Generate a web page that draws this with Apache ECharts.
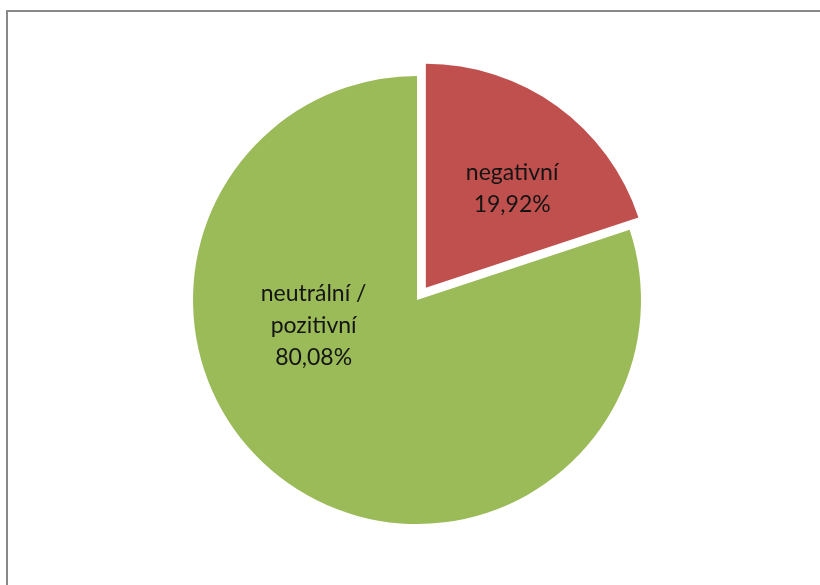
<!DOCTYPE html>
<html>
<head>
<meta charset="utf-8">
<script src="https://cdn.jsdelivr.net/npm/echarts@6/dist/echarts.min.js"></script>
<style>
  html, body { margin: 0; padding: 0; background: #fff; }
  #chart { width: 820px; height: 585px; }
</style>
</head>
<body>
<div id="chart"></div>
<script>
// Sentiment split, shares in percent
const categories = ['negativní', 'neutrální /\npozitivní'];
const shares = [19.92, 80.08];
const colors = ['#C0504D', '#9BBB59'];
// Label nudges so the text sits where the slice has room
const labelShift = [[19, -6], [-36, -68]];

const fmt = v => v.toFixed(2).replace('.', ',') + '%';

const chart = echarts.init(document.getElementById('chart'), null, { renderer: 'canvas' });

chart.setOption({
  animation: false,
  backgroundColor: '#ffffff',
  graphic: [{
    type: 'rect',
    shape: { x: 7, y: 11, width: 900, height: 700 },
    style: { fill: 'none', stroke: '#898989', lineWidth: 2 },
    silent: true,
    z: 10
  }],
  series: [{
    type: 'pie',
    center: [417, 300],
    radius: [0, 224],
    startAngle: 90,
    clockwise: true,
    selectedMode: 'single',
    selectedOffset: 15,
    avoidLabelOverlap: false,
    label: {
      show: true,
      position: 'inside',
      color: '#141414',
      fontFamily: 'Lato, "Open Sans", sans-serif',
      fontSize: 23,
      lineHeight: 32,
      align: 'center',
      formatter: p => p.name + '\n' + fmt(p.value)
    },
    labelLine: { show: false },
    emphasis: { disabled: true },
    data: categories.map((name, i) => ({
      name: name,
      value: shares[i],
      selected: i === 0,
      itemStyle: { color: colors[i] },
      label: { offset: labelShift[i] },
      select: { label: { offset: labelShift[i] } }
    }))
  }]
});
</script>
</body>
</html>
